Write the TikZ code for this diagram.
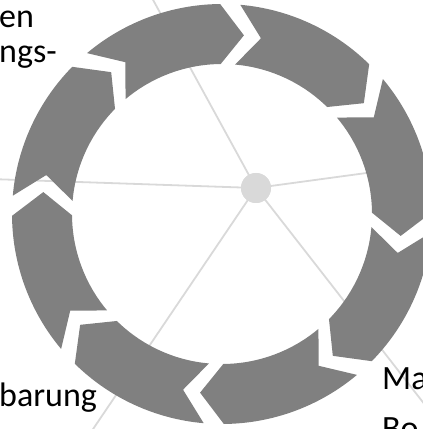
\documentclass[tikz,border=0pt]{standalone}
\usepackage{fontspec}
\setmainfont{Carlito}
\definecolor{ringgray}{HTML}{808080}
\definecolor{linegray}{HTML}{D9D9D9}
\tikzset{
  spoke/.style={draw=linegray, line width=1.8pt},
  hubdot/.style={circle, fill=linegray, minimum size=30pt, inner sep=0pt},
  segfill/.style={fill=ringgray},
  lbl/.style={inner sep=0pt, font=\fontsize{34}{40}\selectfont, text=black}
}
\begin{document}
\begin{tikzpicture}[x=1pt,y=1pt]
\useasboundingbox (0,0) rectangle (423,429);
\clip (0,0) rectangle (423,429);
% spokes
\node[hubdot] (hub) at (256,241) {};
\coordinate (eul) at (146,442);
\coordinate (el) at (-10,250);
\coordinate (ebl) at (85,-12);
\coordinate (ebr) at (436,10);
\coordinate (er) at (440,266);
\foreach \t in {eul,el,ebl,ebr,er} \draw[spoke] (hub.center) -- (\t);
\node[hubdot] at (hub.center) {};
% ring of chevrons
\begin{scope}[shift={(222,215)}]
\foreach \e in {90.5,45.5,0.5,-44.5,-89.5,-134.5,-179.5,-224.5} {
  \pgfmathsetmacro{\s}{\e+39.5}
  \pgfmathsetmacro{\tp}{\e-7.5}
  \pgfmathsetmacro{\nt}{\s-7.5}
  \fill[segfill] (\s:210) arc[start angle=\s, end angle=\e, radius=210]
     -- (\tp:180) -- (\e:150) arc[start angle=\e, end angle=\s, radius=150]
     -- (\nt:180) -- cycle;
}
\end{scope}
% labels
\node[lbl, anchor=base west] (t1) at (-1,401) {en};
\node[lbl, anchor=base west] (t2) at (-1,366) {ngs-};
\node[lbl, anchor=base west] (t3) at (-1,23) {barung};
\node[lbl, anchor=base west] (t4) at (382,39) {Ma};
\node[lbl, anchor=base west] (t5) at (382,-10) {Bo};
\end{tikzpicture}
\end{document}
